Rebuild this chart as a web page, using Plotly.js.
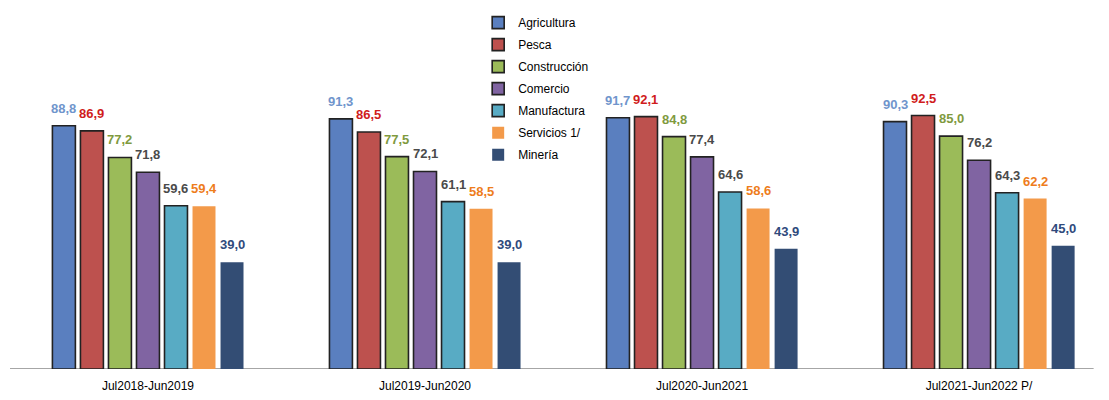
<!DOCTYPE html>
<html>
<head>
<meta charset="utf-8">
<script src="https://cdn.plot.ly/plotly-3.0.1.min.js"></script>
<style>html,body{margin:0;padding:0;background:#fff;}#chart{width:1109px;height:400px;}</style>
</head>
<body>
<div id="chart"></div>
<script>
const categories = ["Jul2018-Jun2019", "Jul2019-Jun2020", "Jul2020-Jun2021", "Jul2021-Jun2022 P/"];
const seriesNames = ["Agricultura", "Pesca", "Construcción", "Comercio", "Manufactura", "Servicios 1/", "Minería"];
const agricultura = [88.8, 91.3, 91.7, 90.3];
const pesca = [86.9, 86.5, 92.1, 92.5];
const construccion = [77.2, 77.5, 84.8, 85.0];
const comercio = [71.8, 72.1, 77.4, 76.2];
const manufactura = [59.6, 61.1, 64.6, 64.3];
const servicios = [59.4, 58.5, 58.6, 62.2];
const mineria = [39.0, 39.0, 43.9, 45.0];
const seriesValues = [agricultura, pesca, construccion, comercio, manufactura, servicios, mineria];

const barColors = ["#5a7fbf", "#bd514e", "#9bbb59", "#8064a2", "#58abc4", "#f39a4a", "#334d74"];
const labelColors = ["#7095cc", "#d01c1c", "#7f9a3e", "#4a4a4a", "#4a4a4a", "#ee7d1c", "#2f4a7c"];
const outlined = [true, true, true, true, true, false, false];

const FONT = "'Liberation Sans Narrow', 'Arial Narrow', 'Liberation Sans', Arial, sans-serif";
const bargap = 0.292;
const nS = seriesNames.length;

const traces = seriesNames.map((name, k) => ({
  type: "bar",
  name: name,
  x: categories,
  y: seriesValues[k],
  legendgroup: "g" + k,
  marker: {
    color: barColors[k],
    line: {color: outlined[k] ? "#222222" : barColors[k], width: outlined[k] ? 1.6 : 0}
  },
  hoverinfo: "x+y+name"
}));

const annotations = [];
seriesValues.forEach((vals, k) => {
  vals.forEach((v, i) => {
    annotations.push({
      x: i + (k - (nS - 1) / 2) * (1 - bargap) / nS,
      xref: "x",
      y: v,
      yref: "y",
      text: v.toFixed(1).replace(".", ","),
      showarrow: false,
      yanchor: "bottom",
      yshift: 8,
      font: {family: FONT, size: 13, color: labelColors[k], weight: "bold"}
    });
  });
});

const layout = {
  width: 1109,
  height: 400,
  margin: {l: 10, r: 0, t: 95, b: 31},
  paper_bgcolor: "#ffffff",
  plot_bgcolor: "#ffffff",
  barmode: "group",
  bargap: bargap,
  bargroupgap: 0.18,
  showlegend: true,
  legend: {
    x: 0.426, y: 1.317, xanchor: "left", yanchor: "top",
    font: {family: FONT, size: 12, color: "#000000"},
    bgcolor: "rgba(0,0,0,0)",
    tracegroupgap: 3,
    itemwidth: 30
  },
  xaxis: {
    type: "category",
    range: [-0.498, 3.469],
    showgrid: false,
    zeroline: false,
    showline: false,
    ticks: "",
    ticklabelstandoff: 8,
    tickfont: {family: FONT, size: 12, color: "#000000"},
    fixedrange: true
  },
  yaxis: {
    range: [0, 100],
    showgrid: false,
    zeroline: false,
    showline: false,
    showticklabels: false,
    ticks: "",
    fixedrange: true
  },
  shapes: [{
    type: "line", xref: "paper", yref: "y",
    x0: 0, x1: 0.986, y0: 0, y1: 0,
    line: {color: "#a6a6a6", width: 2},
    layer: "below"
  }],
  annotations: annotations
};

Plotly.newPlot("chart", traces, layout, {displayModeBar: false, staticPlot: true});
</script>
</body>
</html>
